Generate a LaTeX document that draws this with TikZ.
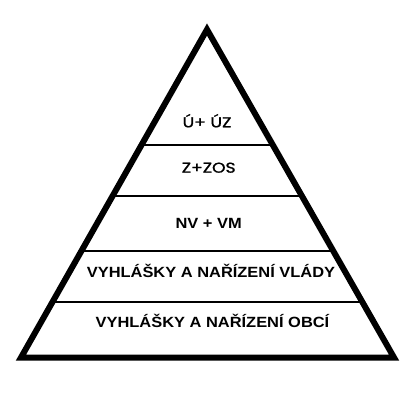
\documentclass[tikz,border=0pt]{standalone}
\usepackage{fontspec}
\setmainfont{Liberation Sans}
\newfontfamily\popfont[FakeBold=1.2]{Poppins}
\usetikzlibrary{calc}
\tikzset{
  pyr/.style={draw=black, line width=6bp, line join=miter},
  layer/.style={draw=black, line width=2bp},
  toplbl/.style={font=\popfont\fontsize{14.3bp}{16bp}\selectfont, text=black,
    anchor=base, inner sep=0pt, xscale=1.2},
  lbl/.style={font=\bfseries\fontsize{14.8bp}{17bp}\selectfont, text=black,
    anchor=base, inner sep=0pt, xscale=1.11}
}

\begin{document}
\begin{tikzpicture}[x=1bp,y=-1bp]
  \fill[white] (0,0) rectangle (414,414);
  \coordinate (apex) at (207,29.5);
  \coordinate (bl) at (21,357.5);
  \coordinate (br) at (394,357.5);
  % layer dividers
  \foreach \t in {0.351,0.5076,0.675,0.8314}{
    \draw[layer] ($(apex)!\t!(bl)$) -- ($(apex)!\t!(br)$);
  }
  \draw[pyr] (apex) -- (bl) -- (br) -- cycle;
  \node[toplbl] (uuz) at (207,127.3) {Ú+ ÚZ};
  \node[toplbl] (zzos) at (208.7,172.7) {Z+ZOS};
  \node[lbl] (nvvm) at (208.7,228.3) {NV + VM};
  \node[lbl] (vlady) at (211,277.7) {VYHLÁŠKY A NAŘÍZENÍ VLÁDY};
  \node[lbl] (obci) at (212.5,327.3) {VYHLÁŠKY A NAŘÍZENÍ OBCÍ};
\end{tikzpicture}
\end{document}
